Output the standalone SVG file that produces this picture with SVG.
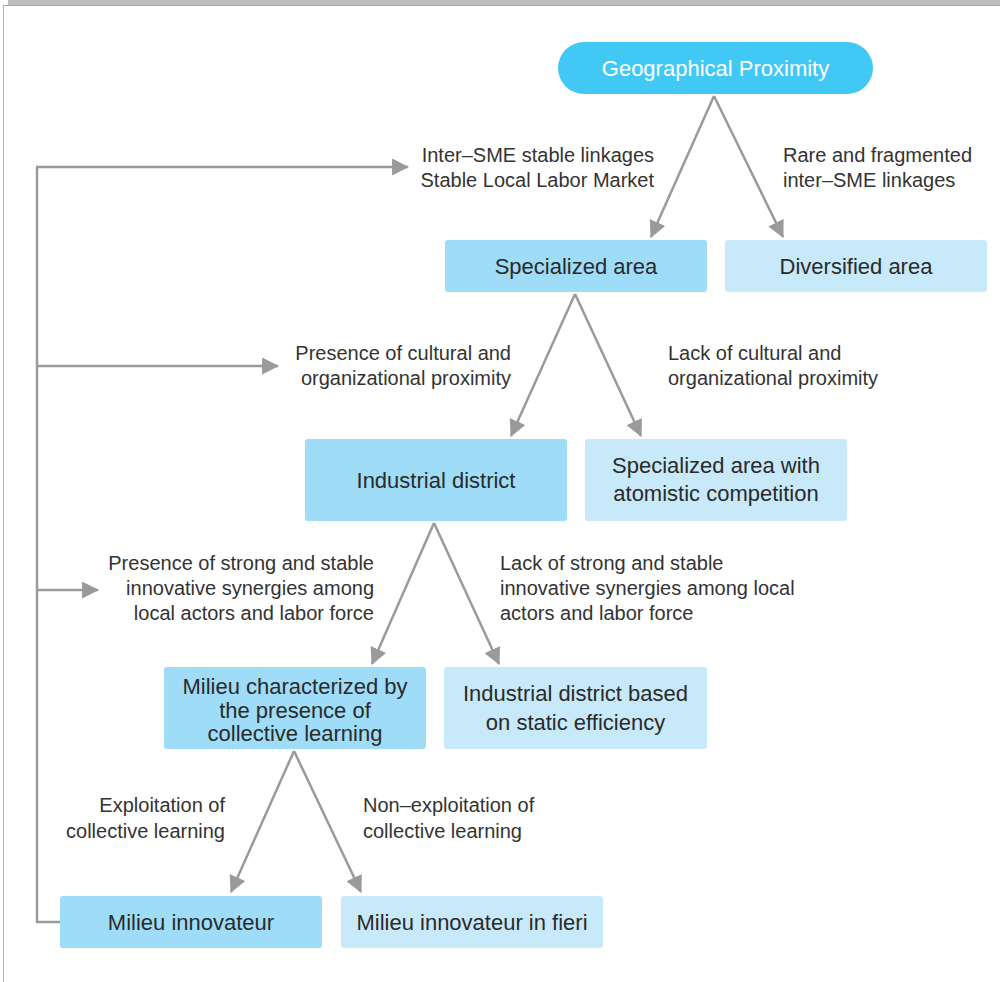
<svg xmlns="http://www.w3.org/2000/svg" width="1000" height="982" viewBox="0 0 1000 982">
  <style>
    .lbl { font-family: "Liberation Sans", Arial, sans-serif; font-size: 20px; fill: #333333; }
    .box { font-family: "Liberation Sans", Arial, sans-serif; font-size: 22px; fill: #2a2a2a; text-anchor: middle; }
    .dark { fill: #9edcf7; }
    .light { fill: #c8e9f9; }
    .conn { stroke: #9a9a9c; stroke-width: 2.5; fill: none; }
  </style>
  <defs>
    <marker id="arrow" viewBox="0 0 10 10" refX="9" refY="5" markerWidth="7" markerHeight="7" markerUnits="userSpaceOnUse" orient="auto">
      <path d="M0,0 L10,5 L0,10 z" fill="#9a9a9c"/>
    </marker>
    <marker id="head" viewBox="0 0 16 16" refX="15" refY="8" markerWidth="17" markerHeight="17" markerUnits="userSpaceOnUse" orient="auto">
      <path d="M0,0 L16,8 L0,16 z" fill="#9a9a9c"/>
    </marker>
  </defs>

  <!-- page frame -->
  <rect x="8" y="0" width="992" height="5" fill="#bcbdc1"/>
  <line x1="3" y1="5.5" x2="1000" y2="5.5" stroke="#a5a5a9" stroke-width="1"/>
  <line x1="3.5" y1="5" x2="3.5" y2="982" stroke="#b4b4b4" stroke-width="1"/>

  <!-- connectors -->
  <g id="connectors">
    <line class="conn" x1="714" y1="96" x2="651" y2="237" marker-end="url(#head)"/>
    <line class="conn" x1="714" y1="96" x2="783" y2="237" marker-end="url(#head)"/>
    <line class="conn" x1="575" y1="294" x2="511" y2="436" marker-end="url(#head)"/>
    <line class="conn" x1="575" y1="294" x2="641" y2="436" marker-end="url(#head)"/>
    <line class="conn" x1="434" y1="523" x2="372" y2="664" marker-end="url(#head)"/>
    <line class="conn" x1="434" y1="523" x2="499" y2="664" marker-end="url(#head)"/>
    <line class="conn" x1="294" y1="751" x2="231" y2="892" marker-end="url(#head)"/>
    <line class="conn" x1="294" y1="751" x2="361" y2="892" marker-end="url(#head)"/>
    <!-- feedback loop -->
    <polyline class="conn" points="60,922 37,922 37,167"/>
    <line class="conn" x1="36" y1="167" x2="408" y2="167" marker-end="url(#head)"/>
    <line class="conn" x1="37" y1="366" x2="278" y2="366" marker-end="url(#head)"/>
    <line class="conn" x1="37" y1="590" x2="98" y2="590" marker-end="url(#head)"/>
  </g>

  <!-- nodes -->
  <g id="geographical-proximity">
    <rect x="558" y="42" width="315" height="52" rx="26" fill="#42c8f4"/>
    <text class="box" x="715.5" y="75.5" fill="#ffffff" style="fill:#ffffff">Geographical Proximity</text>
  </g>
  <g id="specialized-area">
    <rect class="dark" x="445" y="240" width="262" height="52" rx="3"/>
    <text class="box" x="576" y="274">Specialized area</text>
  </g>
  <g id="diversified-area">
    <rect class="light" x="725" y="240" width="262" height="52" rx="3"/>
    <text class="box" x="856" y="274">Diversified area</text>
  </g>
  <g id="industrial-district">
    <rect class="dark" x="305" y="439" width="262" height="82" rx="3"/>
    <text class="box" x="436" y="488">Industrial district</text>
  </g>
  <g id="atomistic-competition">
    <rect class="light" x="585" y="439" width="262" height="82" rx="3"/>
    <text class="box" x="716" y="473">Specialized area with</text>
    <text class="box" x="716" y="501">atomistic competition</text>
  </g>
  <g id="collective-learning">
    <rect class="dark" x="164" y="667" width="262" height="82" rx="3"/>
    <text class="box" x="295" y="694">Milieu characterized by</text>
    <text class="box" x="295" y="718">the presence of</text>
    <text class="box" x="295" y="741">collective learning</text>
  </g>
  <g id="static-efficiency">
    <rect class="light" x="444" y="667" width="263" height="82" rx="3"/>
    <text class="box" x="575.5" y="701">Industrial district based</text>
    <text class="box" x="575.5" y="730">on static efficiency</text>
  </g>
  <g id="milieu-innovateur">
    <rect class="dark" x="60" y="896" width="262" height="52" rx="3"/>
    <text class="box" x="191" y="930">Milieu innovateur</text>
  </g>
  <g id="milieu-in-fieri">
    <rect class="light" x="341" y="896" width="262" height="52" rx="3"/>
    <text class="box" x="472" y="930">Milieu innovateur in fieri</text>
  </g>

  <!-- edge labels -->
  <g id="labels">
    <text class="lbl" x="654" y="162" text-anchor="end">Inter–SME stable linkages</text>
    <text class="lbl" x="654" y="187" text-anchor="end">Stable Local Labor Market</text>
    <text class="lbl" x="783" y="162">Rare and fragmented</text>
    <text class="lbl" x="783" y="187">inter–SME linkages</text>
    <text class="lbl" x="511" y="360" text-anchor="end">Presence of cultural and</text>
    <text class="lbl" x="511" y="385" text-anchor="end">organizational proximity</text>
    <text class="lbl" x="668" y="360">Lack of cultural and</text>
    <text class="lbl" x="668" y="385">organizational proximity</text>
    <text class="lbl" x="374" y="570" text-anchor="end">Presence of strong and stable</text>
    <text class="lbl" x="374" y="595" text-anchor="end">innovative synergies among</text>
    <text class="lbl" x="374" y="620" text-anchor="end">local actors and labor force</text>
    <text class="lbl" x="500" y="570">Lack of strong and stable</text>
    <text class="lbl" x="500" y="595">innovative synergies among local</text>
    <text class="lbl" x="500" y="620">actors and labor force</text>
    <text class="lbl" x="225" y="812" text-anchor="end">Exploitation of</text>
    <text class="lbl" x="225" y="838" text-anchor="end">collective learning</text>
    <text class="lbl" x="363" y="812">Non–exploitation of</text>
    <text class="lbl" x="363" y="838">collective learning</text>
  </g>
</svg>
